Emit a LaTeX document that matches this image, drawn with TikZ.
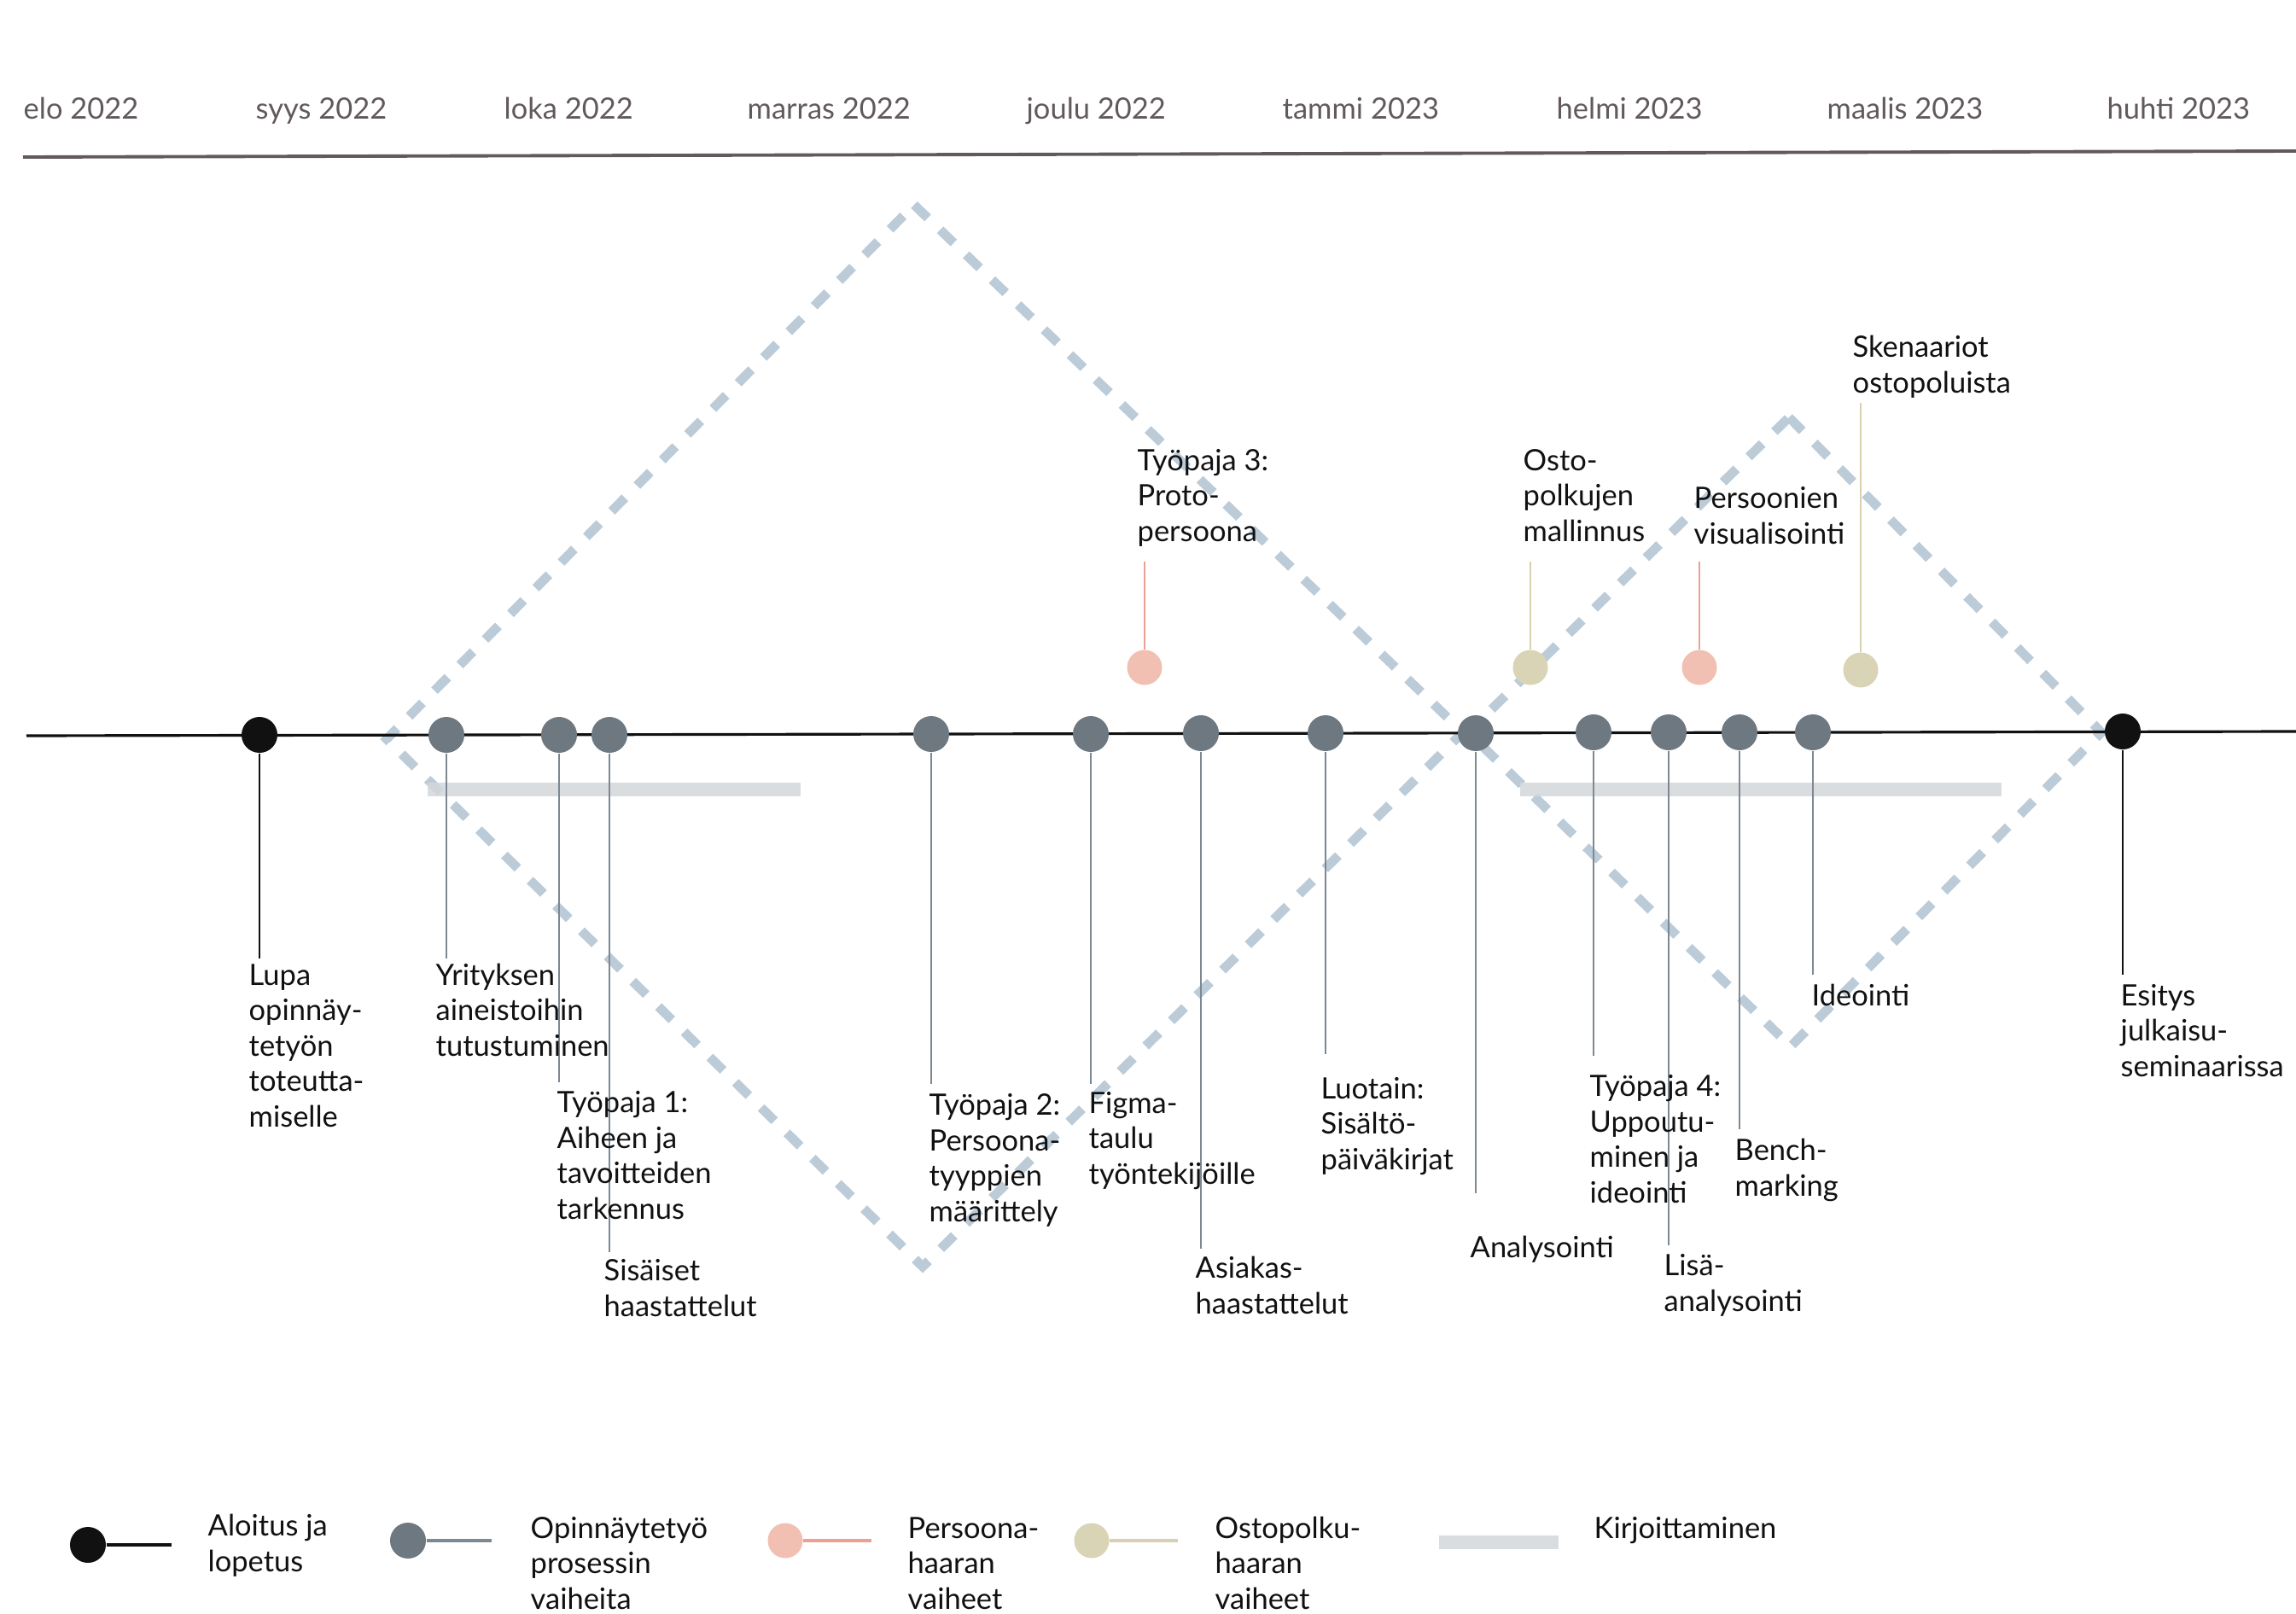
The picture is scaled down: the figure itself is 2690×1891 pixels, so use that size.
\documentclass[tikz,border=0pt]{standalone}
\usepackage{fontspec}
\setmainfont{Lato}
\usepackage{tikz}
\usetikzlibrary{positioning}
\usepackage{xcolor}
\definecolor{RichBlack}{HTML}{111111}
\definecolor{Taupe}{HTML}{625A5A}
\definecolor{Slate}{HTML}{6E7881}
\definecolor{SlateLine}{HTML}{7D8892}
\definecolor{Blush}{HTML}{F2C0B3}
\definecolor{BlushLine}{HTML}{EBA093}
\definecolor{Sand}{HTML}{D9D4B5}
\definecolor{SandLine}{HTML}{D8D0AE}
\definecolor{Mist}{HTML}{D3D7DB}
\definecolor{Sky}{HTML}{BCCBD8}
\tikzset{%
  month_label/.style={%
    anchor=base west,%
    inner sep=0pt,%
    color=Taupe,%
    font={\fontsize{9.8pt}{11.8pt}\selectfont},%
  },
  phase_label/.style={%
    anchor=base west,%
    inner sep=0pt,%
    align=left,%
    color=RichBlack,%
    font={\fontsize{9.8pt}{11.8pt}\selectfont},%
  },
  end_dot/.style={%
    circle,%
    fill=RichBlack,%
    inner sep=0pt,%
    minimum size=0.42cm,%
  },
  phase_dot/.style={%
    circle,%
    fill=Slate,%
    inner sep=0pt,%
    minimum size=0.42cm,%
  },
  persona_dot/.style={%
    circle,%
    fill=Blush,%
    inner sep=0pt,%
    minimum size=0.41cm,%
  },
  journey_dot/.style={%
    circle,%
    fill=Sand,%
    inner sep=0pt,%
    minimum size=0.41cm,%
  },
  header_line/.style={%
    color=Taupe,%
    line width=1.1pt,%
  },
  timeline/.style={%
    color=RichBlack,%
    line width=0.9pt,%
  },
  end_stem/.style={%
    color=RichBlack,%
    line width=0.8pt,%
  },
  phase_stem/.style={%
    color=SlateLine,%
    line width=0.8pt,%
  },
  persona_stem/.style={%
    color=BlushLine,%
    line width=0.6pt,%
  },
  journey_stem/.style={%
    color=SandLine,%
    line width=0.6pt,%
  },
  legend_line/.style={%
    line width=1.2pt,%
  },
  writing_bar/.style={%
    color=Mist,%
    opacity=0.85,%
    line width=4.8pt,%
  },
  diamond_path/.style={%
    color=Sky,%
    line width=3.1pt,%
    dash pattern=on 6.3pt off 5.7pt,%
  },
}

\begin{document}
\begin{tikzpicture}[x=0.01cm, y=0.01cm]
    \useasboundingbox (0, 0) rectangle (2690, -1891);

    \node [month_label] (Elo) at (27, -140) {elo 2022};
    \node [month_label] (Syys) at (299, -140) {syys 2022};
    \node [month_label] (Loka) at (590, -140) {loka 2022};
    \node [month_label] (Marras) at (875, -140) {marras 2022};
    \node [month_label] (Joulu) at (1202, -140) {joulu 2022};
    \node [month_label] (Tammi) at (1502, -140) {tammi 2023};
    \node [month_label] (Helmi) at (1823, -140) {helmi 2023};
    \node [month_label] (Maalis) at (2140, -140) {maalis 2023};
    \node [month_label] (Huhti) at (2468, -140) {huhti 2023};
    \coordinate (header_start) at (27, -184);
    \coordinate (header_end) at (2690, -177);
    \draw [header_line] (header_start) -- (header_end);

    \coordinate (d1_top) at (1071, -240);
    \coordinate (d1_right) at (1714, -858);
    \coordinate (d1_bottom) at (1081, -1484);
    \coordinate (d1_left) at (453, -866);
    \coordinate (d2_top) at (2096, -489);
    \coordinate (d2_right) at (2462, -858);
    \coordinate (d2_bottom) at (2098, -1226);
    \coordinate (d2_left) at (1720, -858);
    \draw [diamond_path]
      (d1_top) -- (d1_right) -- (d1_bottom) -- (d1_left) -- cycle;
    \draw [diamond_path]
      (d2_top) -- (d2_right) -- (d2_bottom) -- (d2_left) -- cycle;

    \coordinate (bar1_start) at (501, -925);
    \coordinate (bar1_end) at (938, -925);
    \coordinate (bar2_start) at (1781, -925);
    \coordinate (bar2_end) at (2345, -925);
    \draw [writing_bar] (bar1_start) -- (bar1_end);
    \draw [writing_bar] (bar2_start) -- (bar2_end);

    \coordinate (line_start) at (31, -862);
    \coordinate (line_end) at (2690, -857);
    \draw [timeline] (line_start) -- (line_end);

    \node [end_dot] (Start) at (304, -861) {};
    \node [phase_dot] (Company) at (523, -861) {};
    \node [phase_dot] (Workshop1) at (655, -861) {};
    \node [phase_dot] (Interviews) at (714, -861) {};
    \node [phase_dot] (Workshop2) at (1091, -860) {};
    \node [phase_dot] (Figma) at (1278, -860) {};
    \node [phase_dot] (Customers) at (1407, -859) {};
    \node [phase_dot] (Probe) at (1553, -859) {};
    \node [phase_dot] (Analysis) at (1729, -859) {};
    \node [phase_dot] (Workshop4) at (1867, -858) {};
    \node [phase_dot] (Reanalysis) at (1955, -858) {};
    \node [phase_dot] (Benchmark) at (2038, -858) {};
    \node [phase_dot] (Ideation) at (2124, -858) {};
    \node [end_dot] (Finish) at (2487, -857) {};

    \node [persona_dot] (ProtoPersona) at (1341, -782) {};
    \node [journey_dot] (JourneyModel) at (1793, -782) {};
    \node [persona_dot] (PersonaVisual) at (1991, -782) {};
    \node [journey_dot] (Scenarios) at (2180, -785) {};

    \coordinate (start_foot) at (304, -1123);
    \coordinate (company_foot) at (523, -1123);
    \coordinate (workshop1_foot) at (655, -1268);
    \coordinate (interviews_foot) at (714, -1467);
    \coordinate (workshop2_foot) at (1091, -1270);
    \coordinate (figma_foot) at (1278, -1270);
    \coordinate (customers_foot) at (1407, -1463);
    \coordinate (probe_foot) at (1553, -1235);
    \coordinate (analysis_foot) at (1729, -1398);
    \coordinate (workshop4_foot) at (1867, -1237);
    \coordinate (reanalysis_foot) at (1955, -1459);
    \coordinate (benchmark_foot) at (2038, -1323);
    \coordinate (ideation_foot) at (2124, -1142);
    \coordinate (finish_foot) at (2487, -1142);
    \draw [end_stem] (Start) -- (start_foot);
    \draw [phase_stem] (Company) -- (company_foot);
    \draw [phase_stem] (Workshop1) -- (workshop1_foot);
    \draw [phase_stem] (Interviews) -- (interviews_foot);
    \draw [phase_stem] (Workshop2) -- (workshop2_foot);
    \draw [phase_stem] (Figma) -- (figma_foot);
    \draw [phase_stem] (Customers) -- (customers_foot);
    \draw [phase_stem] (Probe) -- (probe_foot);
    \draw [phase_stem] (Analysis) -- (analysis_foot);
    \draw [phase_stem] (Workshop4) -- (workshop4_foot);
    \draw [phase_stem] (Reanalysis) -- (reanalysis_foot);
    \draw [phase_stem] (Benchmark) -- (benchmark_foot);
    \draw [phase_stem] (Ideation) -- (ideation_foot);
    \draw [end_stem] (Finish) -- (finish_foot);

    \coordinate (proto_head) at (1341, -658);
    \coordinate (journey_head) at (1793, -658);
    \coordinate (visual_head) at (1991, -658);
    \coordinate (scenarios_head) at (2180, -472);
    \draw [persona_stem] (ProtoPersona) -- (proto_head);
    \draw [journey_stem] (JourneyModel) -- (journey_head);
    \draw [persona_stem] (PersonaVisual) -- (visual_head);
    \draw [journey_stem] (Scenarios) -- (scenarios_head);

    \node [phase_label] (start_label) at (291, -1320)
      {Lupa\\opinnäy-\\tetyön\\toteutta-\\miselle};
    \node [phase_label] (company_label) at (510, -1237)
      {Yrityksen\\aineistoihin\\tutustuminen};
    \node [phase_label] (workshop1_label) at (652, -1428)
      {Työpaja 1:\\Aiheen ja\\tavoitteiden\\tarkennus};
    \node [phase_label] (interviews_label) at (707, -1542)
      {Sisäiset\\haastattelut};
    \node [phase_label] (workshop2_label) at (1088, -1431)
      {Työpaja 2:\\Persoona-\\tyyppien\\määrittely};
    \node [phase_label] (figma_label) at (1275, -1387)
      {Figma-\\taulu\\työntekijöille};
    \node [phase_label] (customers_label) at (1400, -1539)
      {Asiakas-\\haastattelut};
    \node [phase_label] (probe_label) at (1547, -1370)
      {Luotain:\\Sisältö-\\päiväkirjat};
    \node [phase_label] (analysis_label) at (1722, -1473)
      {Analysointi};
    \node [phase_label] (workshop4_label) at (1862, -1409)
      {Työpaja 4:\\Uppoutu-\\minen ja\\ideointi};
    \node [phase_label] (reanalysis_label) at (1949, -1536)
      {Lisä-\\analysointi};
    \node [phase_label] (benchmark_label) at (2032, -1401)
      {Bench-\\marking};
    \node [phase_label] (ideation_label) at (2122, -1178)
      {Ideointi};
    \node [phase_label] (finish_label) at (2484, -1261)
      {Esitys\\julkaisu-\\seminaarissa};

    \node [phase_label] (proto_label) at (1332, -634)
      {Työpaja 3:\\Proto-\\persoona};
    \node [phase_label] (journey_label) at (1784, -634)
      {Osto-\\polkujen\\mallinnus};
    \node [phase_label] (visual_label) at (1984, -637)
      {Persoonien\\visualisointi};
    \node [phase_label] (scenarios_label) at (2170, -460)
      {Skenaariot\\ostopoluista};

    \node [end_dot] (LegendEnd) at (103, -1810) {};
    \node [phase_dot] (LegendPhase) at (478, -1805) {};
    \node [persona_dot] (LegendPersona) at (920, -1805) {};
    \node [journey_dot] (LegendJourney) at (1279, -1805) {};
    \coordinate (legend_end_tail) at (201, -1810);
    \coordinate (legend_phase_tail) at (576, -1805);
    \coordinate (legend_persona_tail) at (1021, -1805);
    \coordinate (legend_journey_tail) at (1380, -1805);
    \coordinate (legend_bar_start) at (1686, -1807);
    \coordinate (legend_bar_end) at (1826, -1807);
    \draw [end_stem, legend_line] (LegendEnd) -- (legend_end_tail);
    \draw [phase_stem, legend_line] (LegendPhase) -- (legend_phase_tail);
    \draw [persona_stem, legend_line] (LegendPersona) -- (legend_persona_tail);
    \draw [journey_stem, legend_line] (LegendJourney) -- (legend_journey_tail);
    \draw [writing_bar] (legend_bar_start) -- (legend_bar_end);

    \node [phase_label] (legend_end_label) at (243, -1841)
      {Aloitus ja\\lopetus};
    \node [phase_label] (legend_phase_label) at (621, -1885)
      {Opinnäytetyö\\prosessin\\vaiheita};
    \node [phase_label] (legend_persona_label) at (1063, -1885)
      {Persoona-\\haaran\\vaiheet};
    \node [phase_label] (legend_journey_label) at (1423, -1885)
      {Ostopolku-\\haaran\\vaiheet};
    \node [phase_label] (legend_bar_label) at (1867, -1802)
      {Kirjoittaminen};
  \end{tikzpicture}
\end{document}
